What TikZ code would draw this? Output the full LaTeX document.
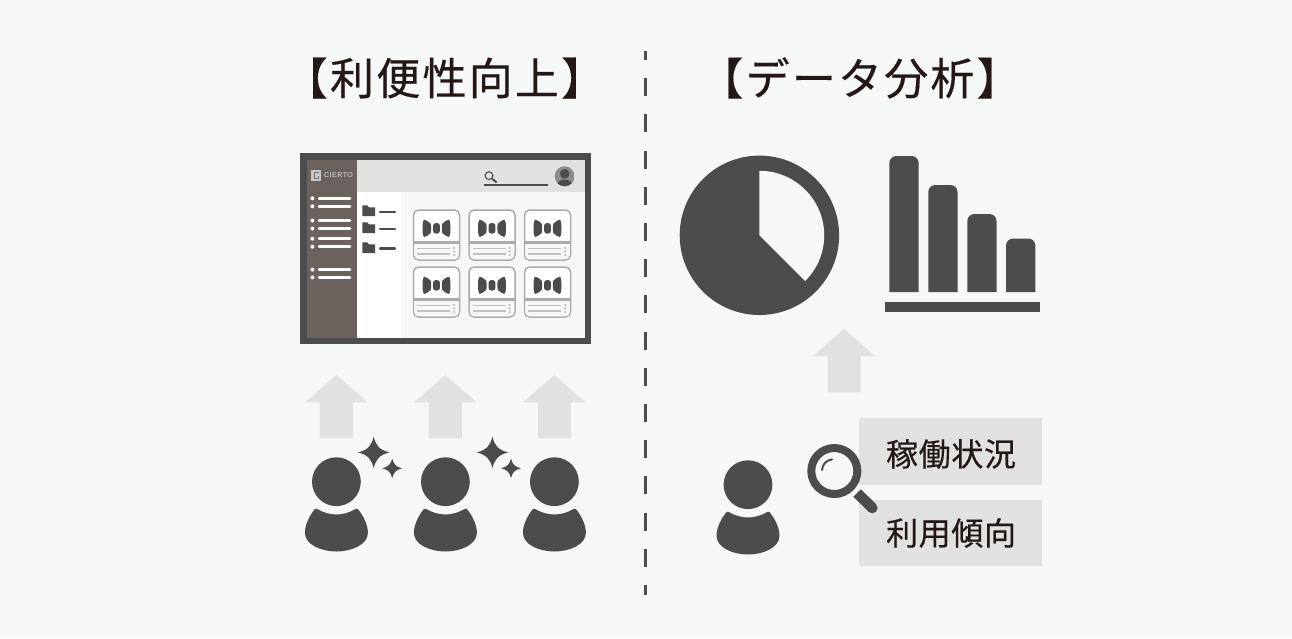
\documentclass[tikz,border=0pt]{standalone}
\usepackage{fontspec}
\newfontfamily\cjktitle[LetterSpace=5,FakeBold=0.35]{Noto Sans CJK JP}
\newfontfamily\cjklabel[LetterSpace=2,FakeBold=0.35]{Noto Sans CJK JP}
\newfontfamily\logofont[LetterSpace=7]{Liberation Sans}
\definecolor{bgc}{HTML}{F6F8F7}
\definecolor{darkc}{HTML}{4C4C4C}
\definecolor{lightc}{HTML}{E1E1DF}
\definecolor{inkc}{HTML}{231815}
\definecolor{sidec}{HTML}{6B625E}
\definecolor{edgec}{HTML}{ABABAB}
\tikzset{
  x=1pt,y=-1pt,
  dk/.style={fill=darkc,draw=none},
  lt/.style={fill=lightc,draw=none},
  sideline/.style={draw=white,line width=2.6pt,line cap=round},
  cardline/.style={draw=edgec!75!white,line width=1.2pt},
  folderdash/.style={draw=darkc,line width=2.2pt,line cap=round},
  titletext/.style={text=inkc,inner sep=0pt,font=\fontsize{44}{50}\selectfont\cjktitle},
  labeltext/.style={text=inkc,inner sep=0pt,font=\fontsize{32}{38}\selectfont\cjklabel},
  person/.pic={
    \fill[dk] (0,0) circle[radius=24.4];
    \fill[dk] (-19.3,27.3) .. controls (-13,31) and (-6,32.8) .. (0,32.8)
       .. controls (6,32.8) and (13,31) .. (19.3,27.3)
       .. controls (21,26.8) and (21.6,27.3) .. (22.3,28.3)
       .. controls (27,34.5) and (31.5,43) .. (31.5,51)
       .. controls (31.5,63) and (15,69.8) .. (0,69.8)
       .. controls (-15,69.8) and (-31.5,63) .. (-31.5,51)
       .. controls (-31.5,43) and (-27,34.5) .. (-22.3,28.3)
       .. controls (-21.6,27.3) and (-21,26.8) .. (-19.3,27.3) -- cycle;
  },
  uparrow/.pic={
    \fill[lt] (0,0) -- (31.3,27.3) -- (16.5,27.3) -- (16.5,63.3) -- (-16.5,63.3) -- (-16.5,27.3) -- (-31.3,27.3) -- cycle;
  },
  sparkle/.pic={
    \fill[dk] (0,-1) .. controls (0.14,-0.45) and (0.35,-0.16) .. (1,0)
      .. controls (0.35,0.16) and (0.14,0.45) .. (0,1)
      .. controls (-0.14,0.45) and (-0.35,0.16) .. (-1,0)
      .. controls (-0.35,-0.16) and (-0.14,-0.45) .. (0,-1) -- cycle;
  },
  card/.pic={
    \draw[edgec,fill=white,line width=1.5pt,rounded corners=5pt] (-23,-24.5) rectangle (23,25.5);
    \fill[bgc,rounded corners=4pt] (-22.2,8) rectangle (22.2,24.7);
    \draw[edgec,line width=2.4pt] (-23,8) -- (23,8);
    \draw[cardline] (-19.5,13.8) -- (13.5,13.8);
    \draw[cardline] (-19.5,19.5) -- (13.5,19.5);
    \fill[edgec] (17.7,13.5) circle[radius=1] (17.7,17) circle[radius=1] (17.7,20.5) circle[radius=1];
    \fill[dk] (-5.8,-10.8) .. controls (-8,-12.5) and (-10,-14.8) .. (-12,-14.8)
       .. controls (-13.7,-14.8) and (-14,-10) .. (-14,-6.2)
       .. controls (-14,-2.4) and (-13.7,2.4) .. (-12,2.4)
       .. controls (-10,2.4) and (-8,0.1) .. (-5.8,-1.6)
       .. controls (-5.2,-4) and (-5.2,-8.4) .. (-5.8,-10.8) -- cycle;
    \fill[dk] (5.8,-10.8) .. controls (8,-12.5) and (10,-14.8) .. (12,-14.8)
       .. controls (13.7,-14.8) and (14,-10) .. (14,-6.2)
       .. controls (14,-2.4) and (13.7,2.4) .. (12,2.4)
       .. controls (10,2.4) and (8,0.1) .. (5.8,-1.6)
       .. controls (5.2,-4) and (5.2,-8.4) .. (5.8,-10.8) -- cycle;
    \fill[dk,rounded corners=2.6pt] (-3.4,-11.4) rectangle (3.4,-1);
  },
  folder/.pic={
    \fill[dk] (0,1) -- (0,0) -- (5,0) -- (6.5,2) -- (12.7,2) -- (12.7,10.8) -- (0,10.8) -- cycle;
  },
}
\begin{document}
\begin{tikzpicture}
\useasboundingbox (0,0) rectangle (1292,638);
\fill[bgc] (0,0) rectangle (1292,638);

% titles
\node[titletext] (t1) at (444.5,78) {【利便性向上】};
\node[titletext] (t2) at (860,78) {【データ分析】};

% divider
\draw[darkc,line width=3.4pt,dash pattern=on 18pt off 18.2pt,dash phase=9pt] (645.2,51) -- (645.2,595);

% screen
\fill[dk] (300,153) rectangle (591,344);
\fill[bgc] (306.5,159.5) rectangle (585,337.5);
\fill[sidec] (306.5,159.5) rectangle (357,337.5);
\fill[lt] (357,159.5) rectangle (585,192);
\fill[white] (357,192) rectangle (400.5,337.5);
% logo
\fill[black!22] (311,170) rectangle (321,181);
\draw[black!55,line width=1pt] (319.3,172.6) -- (314,172.6) -- (314,178.5) -- (318.5,178.5) -- (318.5,175.5);
\node[inner sep=0pt,anchor=west,text=black!12,font=\fontsize{7}{8}\selectfont\logofont] (logo) at (324,175.5) {CIERTO};
% sidebar
\foreach \yy in {198.3,206.3,220.6,228.6,238.7,246.7,269.6,277.4}{
  \fill[white] (312.4,\yy) circle[radius=2];
  \draw[sideline] (319,\yy) -- (350,\yy);
}
% folders
\pic at (362.3,205.3) {folder};
\pic at (362.3,222.3) {folder};
\pic at (362.3,242.3) {folder};
\draw[folderdash] (380,212) -- (395,212);
\draw[folderdash] (380,229) -- (395,229);
\draw[folderdash] (380,248.5) -- (395,248.5);
% search
\draw[darkc,line width=1.1pt] (489,175.7) circle[radius=3.9];
\draw[darkc,line width=2pt,line cap=round] (492.2,178.9) -- (496.2,182);
\draw[darkc,line width=1.3pt] (483.5,185) -- (548,185);
% avatar
\begin{scope}
\clip (564.7,176.3) circle[radius=10];
\fill[black!45] (564.7,176.3) circle[radius=10];
\fill[dk] (564.7,173.8) circle[radius=4.8];
\fill[dk] (564.7,186) ellipse[x radius=8,y radius=6.5];
\end{scope}
% cards
\foreach \xx in {436.5,492,547.5}{
  \pic at (\xx,234.5) {card};
  \pic at (\xx,291.5) {card};
}

% arrows, people, sparkles
\pic at (336.4,375) {uparrow};
\pic at (445.4,375) {uparrow};
\pic at (554.4,375) {uparrow};
\pic at (844,329) {uparrow};
\pic at (336.4,481.7) {person};
\pic at (445.4,481.7) {person};
\pic at (554.4,481.7) {person};
\pic at (748,484.7) {person};
\pic[scale=15.7] at (373.7,452.4) {sparkle};
\pic[scale=9.8] at (392.2,468.3) {sparkle};
\pic[scale=15.7] at (492.4,452.4) {sparkle};
\pic[scale=9.8] at (511,468.3) {sparkle};

% pie
\fill[dk] (759.4,235.3) circle[radius=79.7];
\fill[bgc] (759.4,235.3) -- (759.4,170.8) .. controls (795,170.8) and (824.2,199.6) .. (824.2,235.3) .. controls (824.2,252) and (818,268) .. (805.2,281) -- cycle;

% bars
\fill[dk] (889.3,292) [rounded corners=7pt] -- (889.3,156) -- (918.7,156) [sharp corners] -- (918.7,292) -- cycle;
\fill[dk] (928.3,292) [rounded corners=7pt] -- (928.3,185) -- (957.5,185) [sharp corners] -- (957.5,292) -- cycle;
\fill[dk] (967.3,292) [rounded corners=7pt] -- (967.3,214) -- (996.5,214) [sharp corners] -- (996.5,292) -- cycle;
\fill[dk] (1006,292) [rounded corners=7pt] -- (1006,238.5) -- (1035.3,238.5) [sharp corners] -- (1035.3,292) -- cycle;
\fill[dk] (884.5,301.5) rectangle (1040,311.5);

% labelled boxes
\fill[lt] (859.3,418.3) rectangle (1042,484.8);
\fill[lt] (859.3,499.5) rectangle (1042,566);
\node[labeltext] (l1) at (951,454) {稼働状況};
\node[labeltext] (l2) at (951,533) {利用傾向};

% magnifier
\draw[darkc,line width=8pt] (834.3,471) circle[radius=23];
\draw[darkc,line width=10.6pt] (857.2,493) -- (872.3,508);
\fill[darkc] (872.3,508) circle[radius=5.3];
\draw[darkc,line width=2pt,line cap=round] (832,459.4) .. controls (826.5,460) and (822.3,464.5) .. (822,470);
\end{tikzpicture}
\end{document}
